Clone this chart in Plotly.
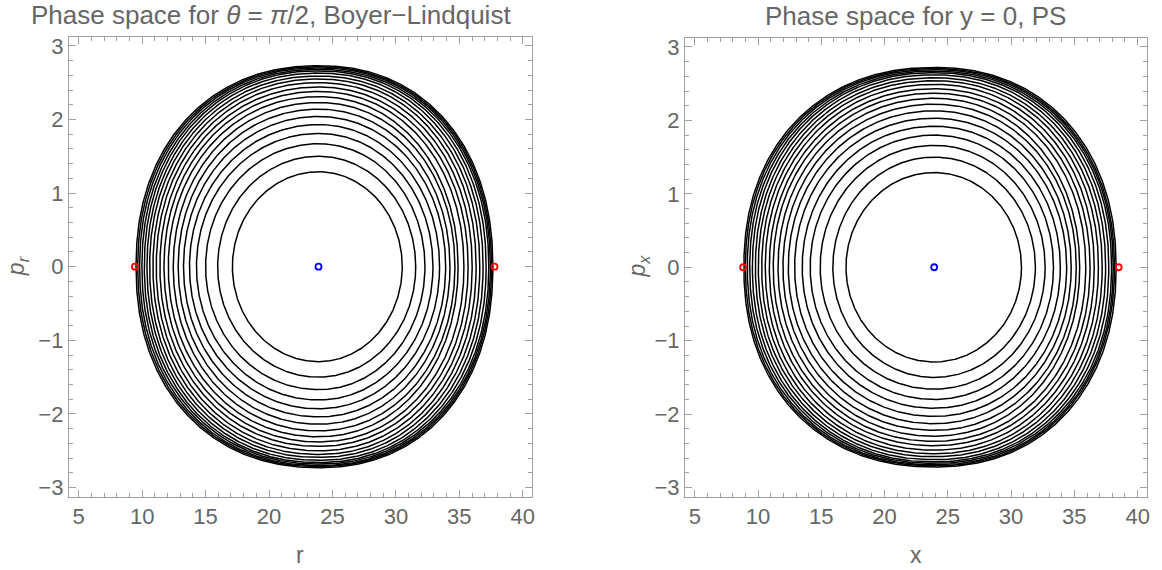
import numpy as np
import plotly.graph_objects as go

# ---------------- data ----------------
# Left panel: Boyer-Lindquist, theta = pi/2
p_top_bl = [1.29, 1.50, 1.67, 1.81, 1.93, 2.04, 2.14, 2.23, 2.31, 2.38,
            2.44, 2.50, 2.55, 2.59, 2.63, 2.66, 2.68, 2.70, 2.715, 2.73]
r_min_bl = [17.11, 15.95, 15.00, 14.28, 13.73, 13.26, 12.84, 12.45, 12.06, 11.72,
            11.40, 11.11, 10.85, 10.59, 10.38, 10.17, 9.98, 9.80, 9.65, 9.52]
r_max_bl = [30.50, 31.56, 32.29, 32.92, 33.44, 33.92, 34.26, 34.65, 34.90, 35.36,
            35.69, 36.01, 36.32, 36.61, 36.87, 37.11, 37.32, 37.44, 37.54, 37.64]
center_bl = 23.9
red_bl = [9.43, 37.77]

# Right panel: y = 0, PS
p_top_ps = [1.29, 1.50, 1.66, 1.80, 1.92, 2.03, 2.13, 2.22, 2.30, 2.37,
            2.43, 2.49, 2.54, 2.58, 2.62, 2.65, 2.67, 2.69, 2.705, 2.72]
x_min_ps = [16.95, 15.91, 14.91, 14.12, 13.49, 12.89, 12.39, 11.97, 11.58, 11.20,
            10.89, 10.57, 10.29, 10.02, 9.79, 9.55, 9.34, 9.15, 9.00, 8.88]
x_max_ps = [30.82, 31.92, 32.69, 33.35, 33.89, 34.39, 34.75, 35.15, 35.42, 35.90,
            36.24, 36.57, 36.90, 37.20, 37.47, 37.72, 37.94, 38.07, 38.17, 38.30]
center_ps = 23.92
red_ps = [8.82, 38.50]

# superellipse exponent of each loop (roundness), inner -> outer
shape_n = [2.0, 2.01, 2.02, 2.03, 2.04, 2.05, 2.06, 2.07, 2.08, 2.09,
           2.1, 2.11, 2.12, 2.13, 2.14, 2.15, 2.16, 2.17, 2.18, 2.19]

xtick_vals = [5, 10, 15, 20, 25, 30, 35, 40]
ytick_vals = [-3, -2, -1, 0, 1, 2, 3]


def loops(c, lo, hi, top, ns):
    t = np.linspace(0, 2 * np.pi, 721)
    xs, ys = [], []
    for a, b, h, n in zip(lo, hi, top, ns):
        cu, su = np.cos(t), np.sin(t)
        u = np.sign(cu) * np.abs(cu) ** (2.0 / n)
        v = np.sign(su) * np.abs(su) ** (2.0 / n)
        r = np.where(u < 0, c + u * (c - a), c + u * (b - c))
        p = h * v
        xs += list(r) + [None]
        ys += list(p) + [None]
    return xs, ys


fig = go.Figure()

xs, ys = loops(center_bl, r_min_bl, r_max_bl, p_top_bl, shape_n)
fig.add_trace(go.Scatter(x=xs, y=ys, mode="lines", line=dict(color="black", width=1.5),
                         xaxis="x", yaxis="y", hoverinfo="skip", showlegend=False))
xs, ys = loops(center_ps, x_min_ps, x_max_ps, p_top_ps, shape_n)
fig.add_trace(go.Scatter(x=xs, y=ys, mode="lines", line=dict(color="black", width=1.5),
                         xaxis="x2", yaxis="y2", hoverinfo="skip", showlegend=False))

for xa, ya, reds, cen in (("x", "y", red_bl, center_bl), ("x2", "y2", red_ps, center_ps)):
    fig.add_trace(go.Scatter(x=reds, y=[0, 0], mode="markers", xaxis=xa, yaxis=ya,
                             marker=dict(symbol="circle-open", size=6, color="#ff0000",
                                         line=dict(width=1.8, color="#ff0000")),
                             showlegend=False))
    fig.add_trace(go.Scatter(x=[cen], y=[0], mode="markers", xaxis=xa, yaxis=ya,
                             marker=dict(symbol="circle-open", size=6, color="#0000ff",
                                         line=dict(width=1.8, color="#0000ff")),
                             showlegend=False))

W, H = 1162, 570
font = "Liberation Sans, Arial, sans-serif"
gray_txt = "#666666"
frame = "#a0a0a0"


def px(v):
    return v / W


def py(v):
    return 1 - v / H


def xaxis(domain, anchor):
    return dict(domain=domain, anchor=anchor, range=[4.22, 40.72],
                tickvals=xtick_vals, ticks="inside", ticklen=7, tickwidth=1,
                tickcolor=frame, showline=True, linecolor=frame, linewidth=1,
                mirror="ticks", showgrid=False, zeroline=False,
                minor=dict(ticks="inside", ticklen=4, dtick=1, tickcolor=frame, showgrid=False),
                tickfont=dict(family=font, size=22, color=gray_txt))


def yaxis(domain, anchor, rng):
    return dict(domain=domain, anchor=anchor, range=rng,
                tickvals=ytick_vals, ticks="inside", ticklen=7, tickwidth=1,
                tickcolor=frame, showline=True, linecolor=frame, linewidth=1,
                mirror="ticks", showgrid=False, zeroline=False,
                minor=dict(ticks="inside", ticklen=4, dtick=0.2, tickcolor=frame, showgrid=False),
                tickfont=dict(family=font, size=22, color=gray_txt))


fig.update_layout(
    width=W, height=H, margin=dict(l=0, r=0, t=0, b=0),
    paper_bgcolor="white", plot_bgcolor="white", showlegend=False,
    xaxis=xaxis([px(69), px(533.3)], "y"),
    yaxis=yaxis([py(499), py(34)], "x", [-3.125, 3.125]),
    xaxis2=xaxis([px(686.7), px(1149.7)], "y2"),
    yaxis2=yaxis([py(499), py(35.5)], "x2", [-3.125, 3.12]),
)

ann = [
    dict(text="Phase space for <i>θ</i> = <i>π</i>/2, Boyer\u2212Lindquist", x=px(272), y=py(12), size=26),
    dict(text="Phase space for y = 0, PS", x=px(918), y=py(13), size=26),
    dict(text="r", x=px(301), y=py(558), size=23),
    dict(text="x", x=px(918), y=py(558), size=23),
    dict(text="<i>p<sub>r</sub></i>", x=px(17), y=py(266), textangle=-90, size=23),
    dict(text="<i>p<sub>x</sub></i>", x=px(640), y=py(266), textangle=-90, size=23),
]
for a in ann:
    s = a.pop("size")
    a.update(xref="paper", yref="paper", showarrow=False, xanchor="center", yanchor="middle",
             font=dict(family=font, size=s, color=gray_txt))
fig.update_layout(annotations=ann)

fig.write_html("out.html")
